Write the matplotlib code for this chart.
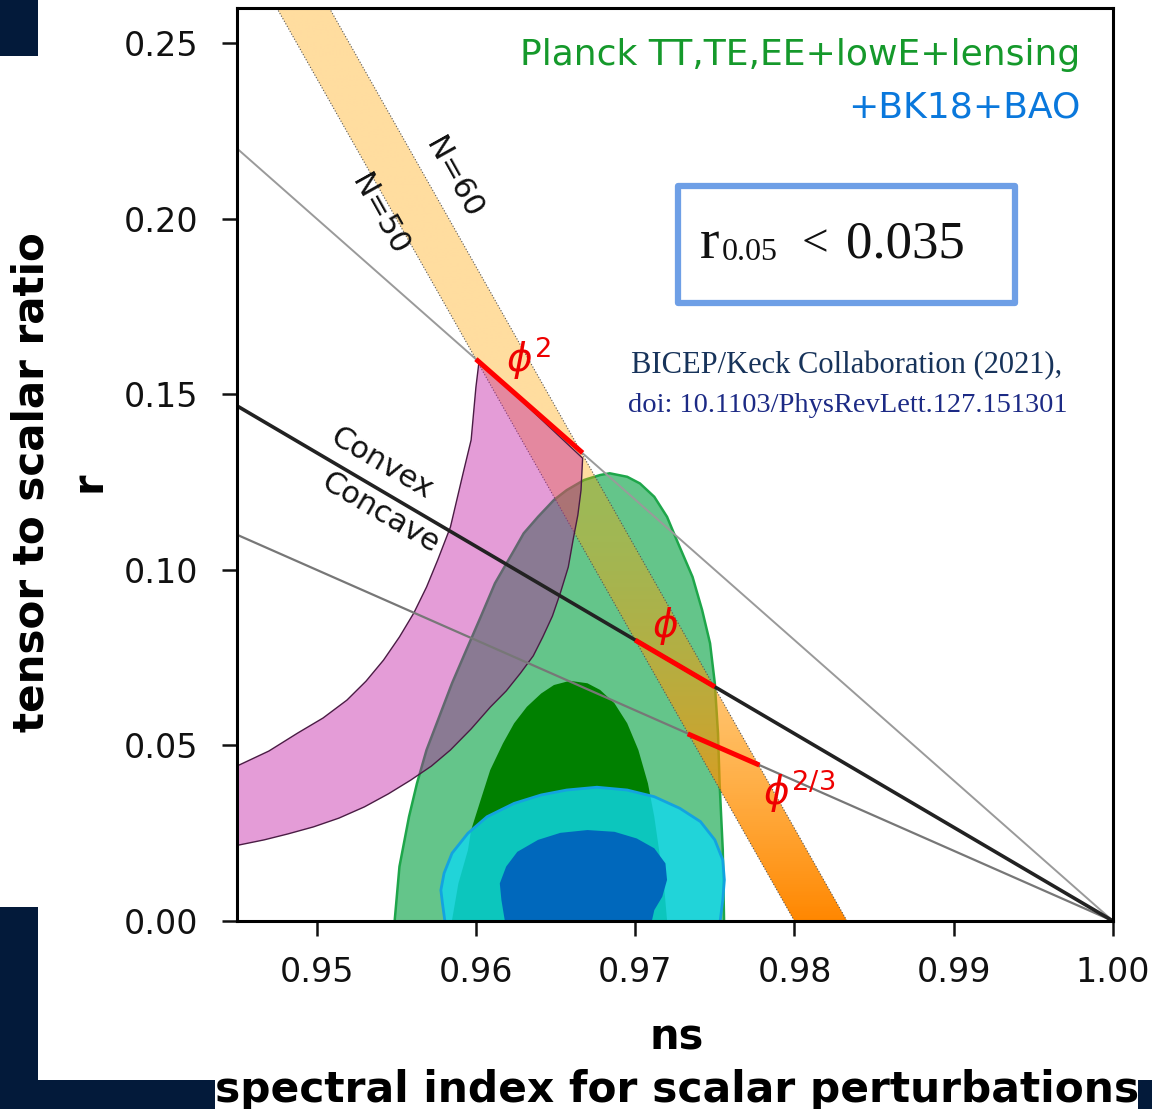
import numpy as np
import matplotlib
matplotlib.use("Agg")
import matplotlib.pyplot as plt
from matplotlib.patches import Polygon, Rectangle

# ---- data (ns, r) ----
# Planck TT,TE,EE+lowE+lensing 95% / 68% contours
planck95_ns = [0.9548, 0.9552, 0.9558, 0.9563, 0.9569, 0.9577, 0.9585, 0.9594, 0.9603, 0.9612,
               0.9624, 0.9630, 0.9639, 0.9649, 0.9657, 0.9668, 0.9678, 0.9684, 0.9695, 0.9703,
               0.9712, 0.9720, 0.9727, 0.9736, 0.9742, 0.9747, 0.9750, 0.9752, 0.9753, 0.9755, 0.9756]
planck95_r = [-0.005, 0.0155, 0.0297, 0.0392, 0.0487, 0.0582, 0.0677, 0.0772, 0.0866, 0.0962,
              0.1056, 0.1104, 0.1151, 0.1199, 0.1227, 0.1256, 0.1270, 0.1275, 0.1265, 0.1246,
              0.1208, 0.1151, 0.1075, 0.0980, 0.0886, 0.0791, 0.0677, 0.0534, 0.0392, 0.0202, -0.005]
planck68_ns = [0.9583, 0.9589, 0.9595, 0.9597, 0.9603, 0.9609, 0.9617, 0.9624, 0.9632, 0.9641,
               0.9649, 0.9659, 0.9670, 0.9678, 0.9687, 0.9695, 0.9702, 0.9708, 0.9712, 0.9715,
               0.9718, 0.9721]
planck68_r = [-0.005, 0.0107, 0.0202, 0.0259, 0.0345, 0.0430, 0.0506, 0.0563, 0.0610, 0.0648,
              0.0672, 0.0684, 0.0677, 0.0658, 0.0620, 0.0563, 0.0487, 0.0392, 0.0297, 0.0202,
              0.0107, -0.005]
# BK18+BAO 95% / 68% contours
bk95_ns = [0.9582, 0.9579, 0.9578, 0.9580, 0.9585, 0.9595, 0.9607, 0.9624, 0.9641, 0.9657,
           0.9676, 0.9695, 0.9712, 0.9728, 0.9741, 0.9750, 0.9755, 0.9756, 0.9755, 0.9752]
bk95_r = [-0.005, 0.0050, 0.0088, 0.0136, 0.0193, 0.0250, 0.0297, 0.0335, 0.0359, 0.0373,
          0.0381, 0.0373, 0.0354, 0.0321, 0.0283, 0.0231, 0.0174, 0.0117, 0.0060, -0.005]
bk68_ns = [0.9620, 0.9616, 0.9615, 0.9619, 0.9626, 0.9639, 0.9653, 0.9670, 0.9687, 0.9701,
           0.9712, 0.9719, 0.9720, 0.9717, 0.9712, 0.9708]
bk68_r = [-0.005, 0.0060, 0.0107, 0.0155, 0.0197, 0.0231, 0.0251, 0.0259, 0.0254, 0.0235,
          0.0207, 0.0164, 0.0117, 0.0069, 0.0031, -0.005]

# natural inflation band (inner and outer edges, top to bottom)
natural_in_ns = [0.9602, 0.9600, 0.9597, 0.9592, 0.9584, 0.9576, 0.9569, 0.9561, 0.9552, 0.9542,
                 0.9531, 0.9519, 0.9504, 0.9488, 0.9470, 0.9440]
natural_in_r = [0.1595, 0.1520, 0.1370, 0.1276, 0.1122, 0.1028, 0.0951, 0.0877, 0.0809, 0.0743,
                0.0683, 0.0629, 0.0578, 0.0535, 0.0484, 0.0420]
natural_out_ns = [0.9667, 0.9666, 0.9664, 0.9661, 0.9658, 0.9653, 0.9648, 0.9642, 0.9636, 0.9628,
                  0.9619, 0.9609, 0.9597, 0.9584, 0.9572, 0.9559, 0.9545, 0.9530, 0.9514, 0.9498,
                  0.9482, 0.9467, 0.9440]
natural_out_r = [0.1318, 0.1227, 0.1156, 0.1085, 0.1008, 0.0934, 0.0868, 0.0809, 0.0755, 0.0706,
                 0.0655, 0.0609, 0.0547, 0.0487, 0.0441, 0.0401, 0.0362, 0.0325, 0.0293, 0.0268,
                 0.0248, 0.0231, 0.0206]

# N = 50 and N = 60 edges of the monomial band
n50_ns = [0.9475, 0.9800]
n50_r = [0.26, 0.0]
n60_ns = [0.9508, 0.9833]
n60_r = [0.26, 0.0]

# reference lines through (1, 0)
phi2_line_ns = [0.945, 1.0]
phi2_line_r = [0.220, 0.0]
linear_line_ns = [0.945, 1.0]
linear_line_r = [0.1467, 0.0]
phi23_line_ns = [0.945, 1.0]
phi23_line_r = [0.110, 0.0]

# N = 50..60 predictions of the monomial models
seg_phi2_ns = [0.9600, 0.9667]
seg_phi2_r = [0.1600, 0.1333]
seg_phi_ns = [0.9700, 0.9750]
seg_phi_r = [0.0800, 0.0667]
seg_phi23_ns = [0.9733, 0.9778]
seg_phi23_r = [0.0533, 0.0444]

xticks = [0.95, 0.96, 0.97, 0.98, 0.99, 1.00]
yticks = [0.00, 0.05, 0.10, 0.15, 0.20, 0.25]

W, H = 1152, 1109
fig = plt.figure(figsize=(W / 100, H / 100), dpi=100)
ax = fig.add_axes([237 / W, 1 - 921 / H, (1113 - 237) / W, (921 - 8) / H])

def px(x, y):
    return x / W, 1 - y / H

# Planck / BK contours
ax.add_patch(Polygon(np.column_stack([planck95_ns, planck95_r]), closed=True,
                     facecolor="#64c58a", edgecolor="#1ea64a", lw=1.8, zorder=1))
ax.add_patch(Polygon(np.column_stack([planck68_ns, planck68_r]), closed=True,
                     facecolor="#008000", edgecolor="none", zorder=1.1))
ax.add_patch(Polygon(np.column_stack([bk95_ns, bk95_r]), closed=True,
                     facecolor="#10d8ee", alpha=0.8, edgecolor="none", zorder=1.2))
ax.add_patch(Polygon(np.column_stack([bk95_ns, bk95_r]), closed=True,
                     facecolor="none", edgecolor="#13a3e0", lw=2.0, zorder=1.25))
ax.add_patch(Polygon(np.column_stack([bk68_ns, bk68_r]), closed=True,
                     facecolor="#0068bc", edgecolor="none", zorder=1.3))

# orange N=50..60 band with gradient
band = Polygon([(n50_ns[0], n50_r[0]), (n60_ns[0], n60_r[0]), (n60_ns[1], n60_r[1]),
                (n50_ns[1], n50_r[1])], closed=True, facecolor="none", edgecolor="none",
               transform=ax.transData)
ax.add_patch(band)
yy = np.linspace(0, 0.26, 400)
t = np.clip((0.12 - yy) / 0.12, 0, 1)
grad = np.zeros((400, 2, 4))
grad[..., 0] = 1.0
grad[..., 1] = ((165 - 30 * t) / 255)[:, None]
grad[..., 3] = (0.38 + 0.62 * t ** 1.5)[:, None]
im = ax.imshow(grad, extent=(0.945, 1.0, 0.0, 0.26), origin="lower", aspect="auto",
               interpolation="bilinear", zorder=2)
im.set_clip_path(band)
ax.plot(n50_ns, n50_r, ls=":", lw=0.8, color="#555555", zorder=2.1)
ax.plot(n60_ns, n60_r, ls=":", lw=0.8, color="#555555", zorder=2.1)

# natural inflation
nat = list(zip(natural_in_ns, natural_in_r)) + list(zip(natural_out_ns[::-1], natural_out_r[::-1]))
ax.add_patch(Polygon(nat, closed=True, facecolor=(0.75, 0.08, 0.63, 0.42),
                     edgecolor="#4a1c44", lw=1.0, zorder=2.5))

# lines
ax.plot(phi2_line_ns, phi2_line_r, color="#9a9a9a", lw=1.4, zorder=3)
ax.plot(phi23_line_ns, phi23_line_r, color="#777777", lw=1.6, zorder=3)
ax.plot(linear_line_ns, linear_line_r, color="#222222", lw=2.6, zorder=3)

for sx, sy in [(seg_phi2_ns, seg_phi2_r), (seg_phi_ns, seg_phi_r), (seg_phi23_ns, seg_phi23_r)]:
    ax.plot(sx, sy, color="#ff0000", lw=3.6, solid_capstyle="butt", zorder=4)

red = "#ee0000"
ax.text(0.9633, 0.1603, r"$\phi^2$", color=red, fontsize=28, ha="center", va="center", zorder=5)
ax.text(0.9719, 0.0840, r"$\phi$", color=red, fontsize=28, ha="center", va="center", zorder=5)
ax.text(0.9803, 0.0370, r"$\phi^{2/3}$", color=red, fontsize=28, ha="center", va="center", zorder=5)

ax.text(0.95395, 0.20102, "N=50", fontsize=22, rotation=-60.9, ha="center", va="center",
        rotation_mode="anchor", color="#111111", zorder=5)
ax.text(0.95859, 0.21156, "N=60", fontsize=22, rotation=-60.9, ha="center", va="center",
        rotation_mode="anchor", color="#111111", zorder=5)
ax.text(0.95408, 0.13041, "Convex", fontsize=22, rotation=-30.45, ha="center", va="center",
        rotation_mode="anchor", color="#111111", zorder=5)
ax.text(0.95402, 0.11617, "Concave", fontsize=22, rotation=-30.45, ha="center", va="center",
        rotation_mode="anchor", color="#111111", zorder=5)

ax.text(0.99793, 0.2466, "Planck TT,TE,EE+lowE+lensing", color="#15992b", fontsize=26,
        ha="right", va="center", zorder=5)
ax.text(0.99793, 0.2318, "+BK18+BAO", color="#0a78dc", fontsize=26,
        ha="right", va="center", zorder=5)

# r limit box
ax.add_patch(Rectangle((0.97271, 0.17597), 0.99385 - 0.97271, 0.20928 - 0.17597,
                       facecolor="white", edgecolor="#6e9fe6", lw=4.5, joinstyle="round", zorder=5))
serif = "Liberation Serif"
fig.text(*px(700, 258), "r", family=serif, fontsize=42, ha="left", va="baseline", color="#111111")
fig.text(*px(722, 260), "0.05", family=serif, fontsize=23, ha="left", va="baseline", color="#111111")
fig.text(*px(802, 256), "<", family=serif, fontsize=34, ha="left", va="baseline", color="#111111")
fig.text(*px(846, 258), "0.035", family=serif, fontsize=38, ha="left", va="baseline", color="#111111")

fig.text(*px(847, 366), "BICEP/Keck Collaboration (2021),", family=serif, fontsize=22,
         ha="center", va="center", color="#17335a")
fig.text(*px(848, 406), "doi: 10.1103/PhysRevLett.127.151301", family=serif, fontsize=20.5,
         ha="center", va="center", color="#1c2a85")

# axes styling
ax.set_xlim(0.945, 1.0)
ax.set_ylim(0.0, 0.26)
ax.set_xticks(xticks)
ax.set_xticklabels([f"{v:.2f}" for v in xticks])
ax.set_yticks(yticks)
ax.set_yticklabels([f"{v:.2f}" for v in yticks])
ax.tick_params(axis="both", direction="out", length=11, width=1.8, labelsize=24, colors="#111111")
ax.tick_params(axis="x", pad=14)
ax.tick_params(axis="y", pad=17)
for sp in ax.spines.values():
    sp.set_linewidth(2.2)
    sp.set_zorder(6)

# labels
fig.text(*px(677, 1037), "ns", fontsize=30, fontweight="bold", ha="center", va="center")
fig.text(*px(215, 1102), "spectral index for scalar perturbations", fontsize=30.5,
         fontweight="bold", ha="left", va="baseline")
fig.text(*px(32, 482), "tensor to scalar ratio", fontsize=30.3, fontweight="bold",
         rotation=90, ha="center", va="center")
fig.text(*px(88, 482), "r", fontsize=30, fontweight="bold", rotation=90, ha="center", va="center")

# dark corner decorations
navy = "#031a3a"
for x0, y0, x1, y1 in [(0, 0, 38, 56), (0, 907, 38, 1109), (38, 1080, 215, 1109), (1138, 1080, 1152, 1109)]:
    fig.patches.append(Rectangle((x0 / W, 1 - y1 / H), (x1 - x0) / W, (y1 - y0) / H,
                                 transform=fig.transFigure, facecolor=navy, edgecolor="none",
                                 zorder=10))

fig.savefig("out.png", dpi=100)
